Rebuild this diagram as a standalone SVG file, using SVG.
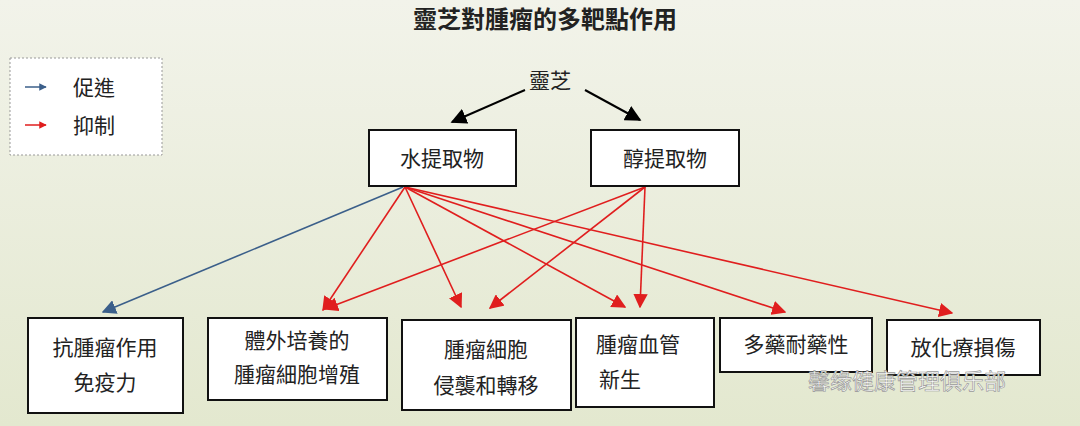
<svg xmlns="http://www.w3.org/2000/svg" width="1080" height="426" viewBox="0 0 1080 426">
<defs>
<linearGradient id="bg" x1="0" y1="0" x2="0" y2="1"><stop offset="0" stop-color="#f2f3ea"/><stop offset="1" stop-color="#e3e8cf"/></linearGradient>
<marker id="r" viewBox="0 0 10 10" refX="9" refY="5" markerWidth="9" markerHeight="9" orient="auto"><path d="M0,0L10,5L0,10z" fill="#e01e1e"/></marker>
<marker id="b" viewBox="0 0 10 10" refX="9" refY="5" markerWidth="9" markerHeight="9" orient="auto"><path d="M0,0L10,5L0,10z" fill="#3b5f8a"/></marker>
<marker id="k" viewBox="0 0 10 10" refX="9" refY="5" markerWidth="8" markerHeight="8" orient="auto"><path d="M0,0L10,5L0,10z" fill="#000"/></marker>
<marker id="rs" viewBox="0 0 10 10" refX="9" refY="5" markerWidth="5" markerHeight="5" orient="auto"><path d="M0,0L10,5L0,10z" fill="#e01e1e"/></marker>
<marker id="bs" viewBox="0 0 10 10" refX="9" refY="5" markerWidth="5" markerHeight="5" orient="auto"><path d="M0,0L10,5L0,10z" fill="#3b5f8a"/></marker>
</defs>
<style>
text{font-family:"Noto Sans CJK TC","Noto Sans CJK SC",sans-serif;fill:#222}
.box{fill:#fff;stroke:#111;stroke-width:2}
.t{font-size:21px;text-anchor:middle}
.red{stroke:#e01e1e;stroke-width:1.6;fill:none;marker-end:url(#r)}
</style>
<rect width="1080" height="426" fill="url(#bg)"/>
<text x="545" y="28" font-size="24" font-weight="bold" text-anchor="middle">靈芝對腫瘤的多靶點作用</text>
<g id="legend">
<rect x="10" y="58" width="152" height="97" fill="#fff" stroke="#999" stroke-dasharray="2,2"/>
<line x1="25" y1="87" x2="46" y2="87" stroke="#3b5f8a" stroke-width="1.5" marker-end="url(#bs)"/>
<line x1="25" y1="125" x2="46" y2="125" stroke="#e01e1e" stroke-width="1.5" marker-end="url(#rs)"/>
<text x="73" y="95" font-size="21">促進</text>
<text x="73" y="133" font-size="21">抑制</text>
</g>
<g id="lingzhi"><text x="550" y="88" class="t">靈芝</text></g>
<g id="connectors">
<line x1="525" y1="90" x2="452" y2="122" stroke="#000" stroke-width="2" marker-end="url(#k)"/>
<line x1="585" y1="90" x2="640" y2="120" stroke="#000" stroke-width="2" marker-end="url(#k)"/>
<line x1="403" y1="187" x2="103" y2="312" stroke="#3b5f8a" stroke-width="1.6" marker-end="url(#b)"/>
<line x1="405" y1="187" x2="323" y2="310" class="red"/>
<line x1="405" y1="187" x2="461" y2="307" class="red"/>
<line x1="405" y1="187" x2="625" y2="307" class="red"/>
<line x1="405" y1="187" x2="785" y2="312" class="red"/>
<line x1="405" y1="187" x2="952" y2="313" class="red"/>
<line x1="645" y1="187" x2="490" y2="308" class="red"/>
<line x1="645" y1="187" x2="640" y2="307" class="red"/>
<line x1="645" y1="187" x2="325" y2="309" class="red"/>
</g>
<g id="water"><rect class="box" x="369" y="130" width="147" height="56"/><text class="t" x="442" y="166">水提取物</text></g>
<g id="alcohol"><rect class="box" x="591" y="130" width="148" height="56"/><text class="t" x="665" y="166">醇提取物</text></g>
<g id="n1"><rect class="box" x="28" y="318" width="155" height="95"/><text class="t" x="105" y="355">抗腫瘤作用</text><text class="t" x="105" y="390">免疫力</text></g>
<g id="n2"><rect class="box" x="208" y="318" width="179" height="82"/><text class="t" x="297" y="348">體外培養的</text><text class="t" x="297" y="382">腫瘤細胞增殖</text></g>
<g id="n3"><rect class="box" x="402" y="320" width="169" height="90"/><text class="t" x="486" y="357">腫瘤細胞</text><text class="t" x="486" y="393">侵襲和轉移</text></g>
<g id="n4"><rect class="box" x="576" y="318" width="138" height="89"/><text class="t" x="638" y="352">腫瘤血管</text><text class="t" x="620" y="387">新生</text></g>
<g id="n5"><rect class="box" x="720" y="318" width="152" height="54"/><text class="t" x="796" y="352">多藥耐藥性</text></g>
<g id="n6"><rect class="box" x="887" y="320" width="153" height="55"/><text class="t" x="963" y="355">放化療損傷</text></g>
<text x="808" y="389" font-size="22" stroke="#999" stroke-width="0.7" style="fill:#fff">馨缘健康管理俱乐部</text>
</svg>
